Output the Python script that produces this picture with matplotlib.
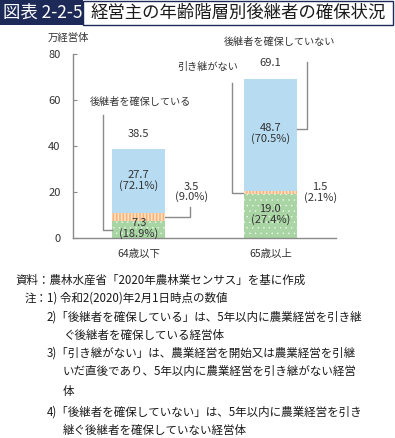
import matplotlib
matplotlib.use("Agg")
import matplotlib.pyplot as plt
from matplotlib.patches import Rectangle

plt.rcParams['font.family'] = ['Noto Sans CJK JP', 'DejaVu Sans']

# ---- data ----
categories = ["64歳以下", "65歳以上"]
secured = [7.3, 19.0]          # 後継者を確保している
secured_pct = ["18.9%", "27.4%"]
not_transfer = [3.5, 1.5]      # 引き継がない
not_transfer_pct = ["9.0%", "2.1%"]
not_secured = [27.7, 48.7]     # 後継者を確保していない
not_secured_pct = ["72.1%", "70.5%"]
totals = [38.5, 69.1]
yticks = [0, 20, 40, 60, 80]

W, H = 395, 438
fig = plt.figure(figsize=(W / 100, H / 100), dpi=100)

def fx(px):
    return px / W

def fy(py):
    return 1 - py / H

# ---- title banner ----
navy = "#1d2a57"
fig.patches.append(Rectangle((fx(0), fy(25)), fx(83), 25 / H, transform=fig.transFigure,
                             facecolor=navy, edgecolor=navy, lw=0))
fig.patches.append(Rectangle((fx(83), fy(25)), fx(393 - 83), 24 / H, transform=fig.transFigure,
                             facecolor="white", edgecolor=navy, lw=1))
fig.text(fx(3), fy(12.5), "図表 2-2-5", color="white", fontsize=12.5, va="center", ha="left")
fig.text(fx(91), fy(12.5), "経営主の年齢階層別後継者の確保状況", color="#1a1a1a",
         fontsize=12.5, va="center", ha="left")

# ---- axes ----
ax = fig.add_axes([fx(73), fy(238), fx(336 - 73), (238 - 54) / H])
ax.set_xlim(-0.5, 1.5)
ax.set_ylim(0, 80)

green = "#a8d5a3"
orange = "#f8b27a"
stripe = "#fde3c6"
blue = "#b7dcf1"
bw = 0.4
x = list(range(len(categories)))

bottom2 = secured
bottom3 = [a + b for a, b in zip(secured, not_transfer)]

ax.bar(x, secured, width=bw, color=green, lw=0, zorder=2)
with plt.rc_context({"hatch.linewidth": 0.2}):
    ax.bar(x, secured, width=bw, facecolor="none", edgecolor="white", hatch="...", lw=0, zorder=3)
ax.bar(x, not_transfer, bottom=bottom2, width=bw, color=orange, lw=0, zorder=2)
with plt.rc_context({"hatch.linewidth": 1.2}):
    ax.bar(x, not_transfer, bottom=bottom2, width=bw, facecolor="none", edgecolor=stripe,
           hatch="|||||", lw=0, zorder=3)
ax.bar(x, not_secured, bottom=bottom3, width=bw, color=blue, lw=0, zorder=2)

for s in ["top", "right"]:
    ax.spines[s].set_visible(False)
for s in ["left", "bottom"]:
    ax.spines[s].set_color("#8a8a8a")
    ax.spines[s].set_linewidth(1.0)

ax.set_yticks(yticks)
ax.tick_params(axis="y", direction="in", length=3, color="#8a8a8a", pad=9,
               labelsize=8, labelcolor="#333333")
ax.set_xticks(x)
ax.set_xticklabels(categories)
ax.tick_params(axis="x", length=0, pad=8, labelsize=7.5, labelcolor="#333333")

fig.text(fx(68), fy(38), "万経営体", fontsize=7.5, ha="center", va="center", color="#333333")

tc = "#333333"
lc = "#8a8a8a"
fs = 8

# values inside bars / totals
for i in x:
    ax.text(i, secured[i] / 2 + 0.6, f"{secured[i]:.1f}\n({secured_pct[i]})", ha="center",
            va="center", fontsize=fs, color=tc, linespacing=1.0, zorder=5)
    ax.text(i, bottom3[i] + not_secured[i] / 2 + 0.5, f"{not_secured[i]:.1f}\n({not_secured_pct[i]})",
            ha="center", va="center", fontsize=fs, color=tc, linespacing=1.0, zorder=5)

ax.text(0, totals[0] + 6.7, f"{totals[0]:.1f}", ha="center", va="center", fontsize=fs, color=tc)
ax.text(1.0, 76.0, f"{totals[1]:.1f}", ha="center", va="center", fontsize=fs, color=tc)

# orange labels (outside)
ax.text(0.40, 20.0, f"{not_transfer[0]:.1f}\n({not_transfer_pct[0]})", ha="center", va="center",
        fontsize=fs, color=tc, linespacing=1.0)
ax.text(1.38, 19.6, f"{not_transfer[1]:.1f}\n({not_transfer_pct[1]})", ha="center", va="center",
        fontsize=fs, color=tc, linespacing=1.0)
y_or0 = secured[0] + not_transfer[0] / 2
ax.plot([0.2, 0.388, 0.388], [y_or0, y_or0, 13.5], color=lc, lw=1, clip_on=False)

# series labels with connectors
lfs = 7.3
ax.text(0.01, 59.1, "後継者を確保している", ha="center", va="center", fontsize=lfs, color=tc)
y_g0 = secured[0] / 2
ax.plot([-0.274, -0.274, -0.2], [53.5, y_g0, y_g0], color=lc, lw=1, clip_on=False)

ax.text(0.525, 74.3, "引き継がない", ha="center", va="center", fontsize=lfs, color=tc)
y_or1 = secured[1] + not_transfer[1] / 2
ax.plot([0.707, 0.707, 0.8], [67.4, y_or1, y_or1], color=lc, lw=1, clip_on=False)

ax.text(1.07, 85.2, "後継者を確保していない", ha="center", va="center", fontsize=lfs, color=tc,
        clip_on=False)
ax.plot([1.278, 1.278, 1.2], [76.5, 47.3, 47.3], color=lc, lw=1, clip_on=False)

# ---- notes ----
nfs = 8.3
nc = "#1a1a1a"
fig.text(fx(15), fy(280), "資料：農林水産省「2020年農林業センサス」を基に作成", fontsize=nfs, va="center", color=nc)
fig.text(fx(25), fy(298.3), "注：", fontsize=nfs, va="center", color=nc)
fig.text(fx(47), fy(298.3), "1) 令和2(2020)年2月1日時点の数値", fontsize=nfs, va="center", color=nc)
fig.text(fx(47), fy(316.7), "2)「後継者を確保している」は、5年以内に農業経営を引き継", fontsize=nfs, va="center", color=nc)
fig.text(fx(63), fy(335), "ぐ後継者を確保している経営体", fontsize=nfs, va="center", color=nc)
fig.text(fx(47), fy(353.3), "3)「引き継がない」は、農業経営を開始又は農業経営を引継", fontsize=nfs, va="center", color=nc)
fig.text(fx(63), fy(371.7), "いだ直後であり、5年以内に農業経営を引き継がない経営", fontsize=nfs, va="center", color=nc)
fig.text(fx(63), fy(391.7), "体", fontsize=nfs, va="center", color=nc)
fig.text(fx(47), fy(411.7), "4)「後継者を確保していない」は、5年以内に農業経営を引き", fontsize=nfs, va="center", color=nc)
fig.text(fx(63), fy(430), "継ぐ後継者を確保していない経営体", fontsize=nfs, va="center", color=nc)

fig.savefig("out.png", dpi=100)
